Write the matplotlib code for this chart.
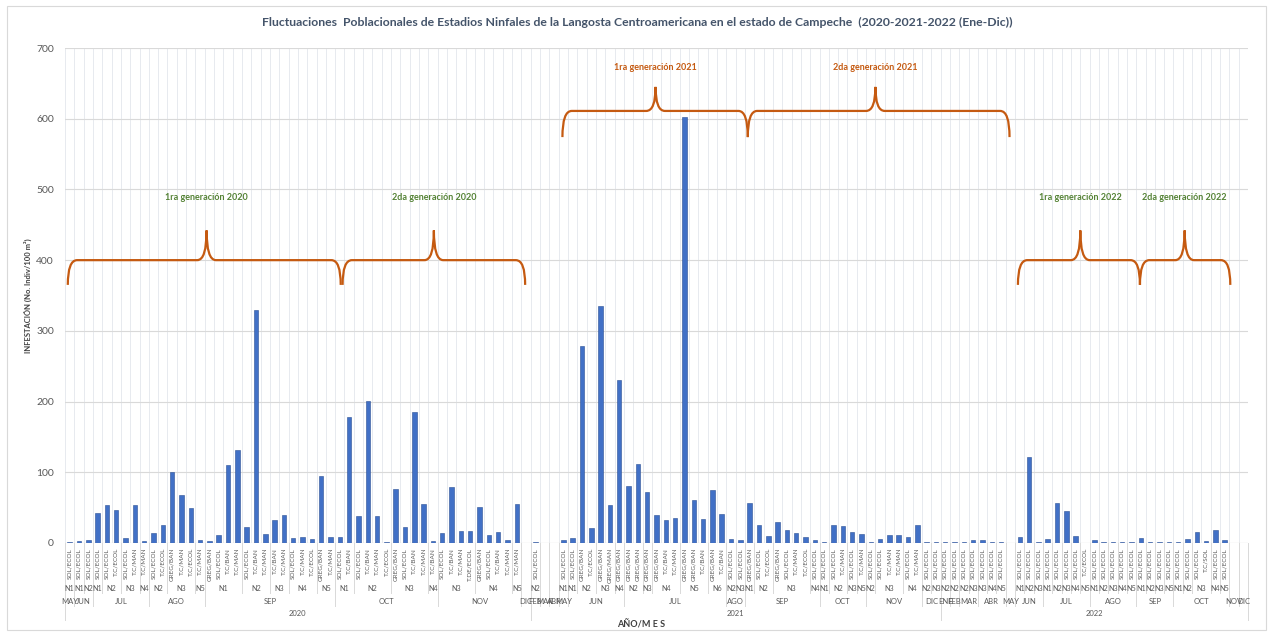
import numpy as np
import matplotlib.pyplot as plt
from matplotlib.path import Path
import matplotlib.patches as mpatches

plt.rcParams['font.family'] = ['Lato', 'DejaVu Sans']

# ---- data ----
years = (['2020'] * 50) + (['2021'] * 44) + (['2022'] * 33)

months = [
    # 2020
    'MAY', 'JUN', 'JUN',
    'JUL', 'JUL', 'JUL', 'JUL', 'JUL', 'JUL',
    'AGO', 'AGO', 'AGO', 'AGO', 'AGO', 'AGO',
    'SEP', 'SEP', 'SEP', 'SEP', 'SEP', 'SEP', 'SEP', 'SEP', 'SEP', 'SEP', 'SEP', 'SEP', 'SEP', 'SEP',
    'OCT', 'OCT', 'OCT', 'OCT', 'OCT', 'OCT', 'OCT', 'OCT', 'OCT', 'OCT', 'OCT',
    'NOV', 'NOV', 'NOV', 'NOV', 'NOV', 'NOV', 'NOV', 'NOV', 'NOV',
    'DIC',
    # 2021
    'FEB', 'MAR', 'ABR', 'MAY',
    'JUN', 'JUN', 'JUN', 'JUN', 'JUN', 'JUN',
    'JUL', 'JUL', 'JUL', 'JUL', 'JUL', 'JUL', 'JUL', 'JUL', 'JUL', 'JUL', 'JUL',
    'AGO', 'AGO',
    'SEP', 'SEP', 'SEP', 'SEP', 'SEP', 'SEP', 'SEP', 'SEP',
    'OCT', 'OCT', 'OCT', 'OCT', 'OCT',
    'NOV', 'NOV', 'NOV', 'NOV', 'NOV', 'NOV',
    'DIC', 'DIC',
    # 2022
    'ENE', 'FEB', 'MAR', 'MAR', 'ABR', 'ABR', 'ABR', 'MAY',
    'JUN', 'JUN', 'JUN',
    'JUL', 'JUL', 'JUL', 'JUL', 'JUL',
    'AGO', 'AGO', 'AGO', 'AGO', 'AGO',
    'SEP', 'SEP', 'SEP', 'SEP',
    'OCT', 'OCT', 'OCT', 'OCT', 'OCT', 'OCT',
    'NOV', 'DIC',
]

instars = [
    # 2020
    'N1', 'N1', 'N2',
    'N1', 'N2', 'N2', 'N3', 'N3', 'N4',
    'N2', 'N2', 'N3', 'N3', 'N3', 'N5',
    'N1', 'N1', 'N1', 'N1', 'N2', 'N2', 'N2', 'N3', 'N3', 'N4', 'N4', 'N4', 'N5', 'N5',
    'N1', 'N1', 'N2', 'N2', 'N2', 'N2', 'N3', 'N3', 'N3', 'N3', 'N4',
    'N3', 'N3', 'N3', 'N3', 'N4', 'N4', 'N4', 'N4', 'N5',
    '',
    # 2021
    'N2', '', '', 'N1',
    'N1', 'N2', 'N2', 'N3', 'N3', 'N4',
    'N2', 'N2', 'N3', 'N4', 'N4', 'N4', 'N5', 'N5', 'N5', 'N6', 'N6',
    'N2', 'N3',
    'N1', 'N2', 'N2', 'N3', 'N3', 'N3', 'N3', 'N4',
    'N1', 'N2', 'N2', 'N3', 'N5',
    'N2', 'N3', 'N3', 'N3', 'N4', 'N4',
    'N2', 'N3',
    # 2022
    'N2', 'N2', 'N2', 'N3', 'N3', 'N4', 'N5', '',
    'N1', 'N2', 'N3',
    'N1', 'N2', 'N3', 'N4', 'N5',
    'N1', 'N2', 'N3', 'N4', 'N5',
    'N1', 'N2', 'N3', 'N5',
    'N1', 'N2', 'N3', 'N3', 'N4', 'N5',
    '', '',
]

stages = [
    # 2020
    'SOL/ECOL', 'SOL/ECOL', 'SOL/ECOL',
    'SOL/ECOL', 'SOL/ECOL', 'T.C/ECOL', 'SOL/ECOL', 'T.C/MAN', 'T.C/MAN',
    'SOL/ECOL', 'T.C/ECOL', 'GREG/BAN', 'T.C/MAN', 'T.C/ECOL', 'T.C/MAN',
    'GREG/BAN', 'SOL/ECOL', 'T.C/BAN', 'T.C/MAN', 'SOL/ECOL', 'T.C/BAN', 'T.C/MAN',
    'T.C/BAN', 'T.C/MAN', 'SOL/ECOL', 'T.C/MAN', 'T.C/ECOL', 'GREG/BAN', 'T.C/MAN',
    'SOL/ECOL', 'T.C/BAN', 'SOL/ECOL', 'T.C/BAN', 'T.C/MAN', 'T.C/ECOL',
    'GREG/BAN', 'SOL/ECOL', 'T.C/BAN', 'T.C/MAN', 'T.C/BAN',
    'SOL/ECOL', 'T.C/BAN', 'T.C/MAN', 'T.DE/ECOL', 'GREG/BAN', 'SOL/ECOL', 'T.C/BAN', 'T.C/MAN', 'T.C/MAN',
    '',
    # 2021
    'SOL/ECOL', '', '', 'SOL/ECOL',
    'SOL/ECOL', 'GREG/BAN', 'T.C/ECOL', 'GREG/BAN', 'GREG/MAN', 'GREG/BAN',
    'GREG/BAN', 'GREG/BAN', 'GREG/BAN', 'GREG/BAN', 'T.C/BAN', 'T.C/MAN',
    'GREG/BAN', 'GREG/BAN', 'T.C/BAN', 'GREG/BAN', 'T.C/BAN',
    'SOL/ECOL', 'SOL/ECOL',
    'GREG/BAN', 'SOL/ECOL', 'T.C/ECOL', 'GREG/BAN', 'SOL/ECOL', 'T.C/MAN', 'T.C/ECOL', 'SOL/ECOL',
    'SOL/ECOL', 'SOL/ECOL', 'T.C/MAN', 'SOL/ECOL', 'T.C/MAN',
    'SOL/ECOL', 'SOL/ECOL', 'T.C/MAN', 'T.C/MAN', 'SOL/ECOL', 'T.C/MAN',
    'SOL/ECOL', 'SOL/ECOL',
    # 2022
    'SOL/ECOL', 'SOL/ECOL', 'SOL/ECOL', 'SOL/ECOL', 'SOL/ECOL', 'SOL/ECOL', 'SOL/ECOL', '',
    'SOL/ECOL', 'SOL/ECOL', 'SOL/ECOL',
    'SOL/ECOL', 'SOL/ECOL', 'SOL/ECOL', 'SOL/ECOL', 'T.C/ECOL',
    'SOL/ECOL', 'SOL/ECOL', 'SOL/ECOL', 'SOL/ECOL', 'SOL/ECOL',
    'SOL/ECOL', 'SOL/ECOL', 'SOL/ECOL', 'SOL/ECOL',
    'SOL/ECOL', 'SOL/ECOL', 'SOL/ECOL', 'T.C/SOL', 'SOL/ECOL', 'SOL/ECOL',
    '', '',
]

values = [
    # 2020
    2, 3, 4.5,
    43, 54, 47, 7.5, 54, 3,
    14.5, 25.5, 101, 68, 50, 4.5,
    3, 11, 111, 131, 23, 329, 13, 33, 39, 7, 9, 5, 95, 9,
    8.5, 178, 37.5, 201, 38, 2, 76, 22, 185, 55, 2.5,
    14.5, 79, 16.5, 16.5, 51, 11, 15, 4.5, 55,
    0,
    # 2021
    2, 0, 0, 4,
    7, 278, 21, 335, 54, 231,
    81, 112, 71.5, 40, 33, 35, 603, 61, 33.5, 74.5, 41,
    6, 4,
    57, 26, 10, 29, 19, 14, 8, 4,
    1.5, 26, 24, 15, 13,
    1.5, 5, 12, 11, 9, 26,
    1.5, 1.5,
    # 2022
    1.5, 1.5, 1, 4.5, 4.5, 1.5, 2, 0,
    8, 122, 2,
    6, 57, 45, 10, 0.5,
    4, 1.5, 1.5, 1.5, 1,
    7, 1, 1, 1,
    1, 5.5, 16, 3, 18, 4,
    0, 0,
]

# generation brackets
gen_labels = ['1ra generación 2020', '2da generación 2020', '1ra generación 2021',
              '2da generación 2021', '1ra generación 2022', '2da generación 2022']
gen_start = [-0.2, 29.3, 52.9, 72.8, 101.8, 114.9]
gen_end = [29.1, 48.9, 72.8, 100.9, 114.9, 124.6]
gen_tip = [14.7, 39.1, 62.9, 86.5, 108.5, 119.7]
gen_level = [400, 400, 611, 611, 400, 400]
gen_colors = ['#548235', '#548235', '#C55A11', '#C55A11', '#548235', '#548235']

BRACE = '#C55A11'
GRID = '#D9D9D9'
TXT = '#595959'


def runs(keys):
    out = []
    start = 0
    for i in range(1, len(keys) + 1):
        if i == len(keys) or keys[i] != keys[start]:
            out.append((start, i - 1, keys[start]))
            start = i
    return out


def brace(ax, x0, x1, xm, y, tip, drop, color):
    d = 1.0
    verts = [(x0, y - drop), (x0, y), (x0 + d, y),
             (xm - d, y), (xm, y), (xm, y + tip),
             (xm, y), (xm + d, y),
             (x1 - d, y), (x1, y), (x1, y - drop)]
    codes = [Path.MOVETO, Path.CURVE3, Path.CURVE3,
             Path.LINETO, Path.CURVE3, Path.CURVE3,
             Path.CURVE3, Path.CURVE3,
             Path.LINETO, Path.CURVE3, Path.CURVE3]
    ax.add_patch(mpatches.PathPatch(Path(verts, codes), fill=False,
                                    edgecolor=color, lw=1.6, zorder=5))


fig = plt.figure(figsize=(12.73, 6.42), dpi=100)
fig.add_artist(mpatches.Rectangle((7 / 1273, 12 / 642), 1259 / 1273, 624 / 642,
                                  transform=fig.transFigure, fill=False,
                                  edgecolor=GRID, lw=0.8))
ax = fig.add_axes([65 / 1273, 99 / 642, 1183 / 1273, 495 / 642])

n = len(values)
x = np.arange(n)
ax.bar(x, values, width=0.48, color='#4170C6', edgecolor='#2B4F94',
       linewidth=0.4, zorder=3)

ax.set_xlim(-0.5, n - 0.5)
ax.set_ylim(0, 700)
ax.set_yticks(range(0, 701, 100))
ax.set_xticks([])
for s in ax.spines.values():
    s.set_visible(False)
ax.yaxis.grid(True, color=GRID, lw=0.8)
ax.set_axisbelow(True)
for b in np.arange(-0.5, n + 0.5):
    ax.axvline(b, color='#E3E6EC', lw=0.6, zorder=0)
ax.axhline(0, color=GRID, lw=0.8, zorder=1)
ax.tick_params(axis='y', labelsize=7.5, labelcolor=TXT, length=0, pad=8)

ax.set_ylabel('INFESTACIÓN (No. Indiv/100 m²)', fontsize=5.5, fontweight='bold',
              color='#404040', labelpad=3)

# multi-level category axis
tr = ax.get_xaxis_transform()
for i in range(n):
    if stages[i]:
        ax.text(i, -0.01, stages[i], transform=tr, rotation=90, ha='center', va='top',
                fontsize=4.6, color=TXT, clip_on=False)

for a, b, key in runs(list(zip(years, months, instars))):
    if key[2]:
        ax.text((a + b) / 2, -0.091, key[2], transform=tr, ha='center', va='center',
                fontsize=5.2, color=TXT, clip_on=False)
    ax.plot([a - 0.5, a - 0.5], [0, -0.1], transform=tr, color=GRID, lw=0.7, clip_on=False)

for a, b, key in runs(list(zip(years, months))):
    ax.text((a + b) / 2, -0.119, key[1], transform=tr, ha='center', va='center',
            fontsize=5.5, color=TXT, clip_on=False)
    ax.plot([a - 0.5, a - 0.5], [0, -0.128], transform=tr, color=GRID, lw=0.7, clip_on=False)

for a, b, key in runs(years):
    ax.text((a + b) / 2, -0.142, key, transform=tr, ha='center', va='center',
            fontsize=5.5, color=TXT, clip_on=False)
    ax.plot([a - 0.5, a - 0.5], [0, -0.155], transform=tr, color=GRID, lw=0.7, clip_on=False)
ax.plot([n - 0.5, n - 0.5], [0, -0.155], transform=tr, color=GRID, lw=0.7, clip_on=False)

ax.text(61.3, -0.166, 'AÑO/M E S', transform=tr, ha='center', va='center',
        fontsize=6.5, fontweight='bold', color='#404040', clip_on=False)

# generation brackets
for lab, x0, x1, xm, lev, col in zip(gen_labels, gen_start, gen_end, gen_tip, gen_level, gen_colors):
    tip = 42 if lev == 400 else 34
    drop = 35 if lev == 400 else 37
    brace(ax, x0, x1, xm, lev, tip, drop, BRACE)
    ax.text(xm, lev + (89 if lev == 400 else 62), lab, ha='center', va='center',
            fontsize=6.5, fontweight='bold', color=col, zorder=6)

fig.text(637 / 1273, 1 - 22 / 642,
         'Fluctuaciones  Poblacionales de Estadios Ninfales de la Langosta Centroamericana en el estado de Campeche  (2020-2021-2022 (Ene-Dic))',
         ha='center', va='center', fontsize=8.8, fontweight='bold', color='#44546A')

fig.savefig('out.png', dpi=100)
